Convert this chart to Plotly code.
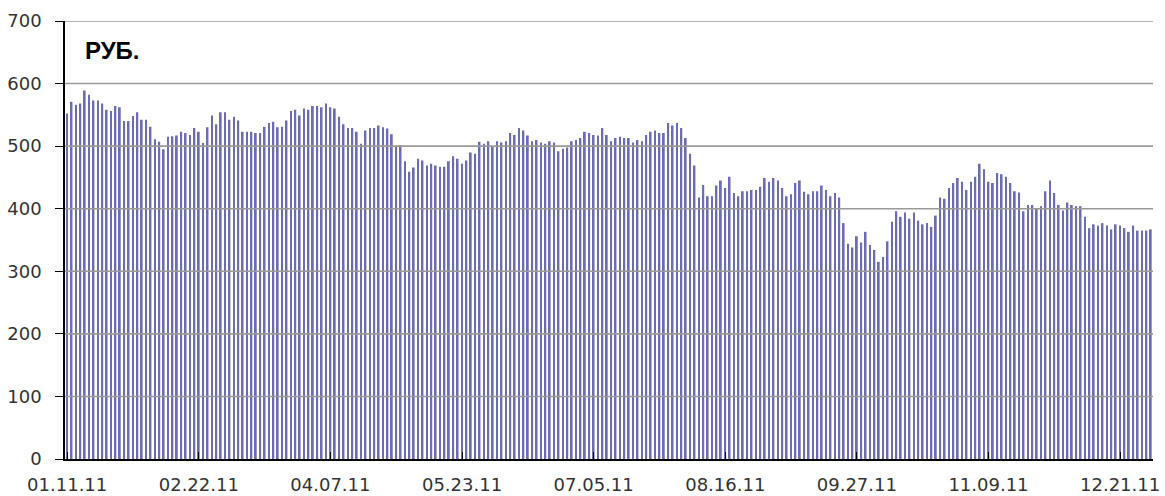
import pandas as pd
import plotly.graph_objects as go

# Trading calendar (Moscow exchange, 2011)
START, END = "2011-01-11", "2011-12-30"
HOLIDAYS = ["2011-02-23", "2011-03-07", "2011-03-08", "2011-05-02",
            "2011-05-09", "2011-06-13", "2011-11-04"]
EXTRA_WORKDAYS = ["2011-03-05"]

PRICES = [
    552, 571, 566, 568, 589, 582, 573, 573, 568, 558,
    556, 564, 562, 540, 540, 548, 554, 542, 542, 531,
    511, 507, 495, 515, 516, 517, 523, 521, 518, 529,
    523, 505, 530, 549, 535, 554, 554, 542, 547, 541,
    523, 523, 523, 521, 521, 531, 537, 539, 530, 531,
    541, 556, 558, 549, 560, 558, 564, 564, 562, 568,
    562, 560, 547, 535, 529, 529, 523, 504, 525, 529,
    529, 533, 530, 528, 519, 500, 502, 476, 459, 466,
    480, 477, 469, 472, 469, 467, 467, 476, 484, 480,
    472, 477, 490, 488, 507, 504, 508, 500, 508, 506,
    508, 521, 518, 529, 525, 517, 508, 510, 506, 504,
    508, 506, 492, 496, 498, 508, 510, 513, 523, 521,
    518, 517, 529, 518, 508, 513, 515, 513, 513, 506,
    510, 508, 518, 523, 525, 521, 521, 537, 533, 537,
    529, 513, 488, 469, 418, 438, 420, 420, 437, 445,
    433, 451, 425, 420, 428, 428, 430, 430, 435, 449,
    443, 449, 445, 433, 420, 423, 441, 445, 427, 423,
    428, 428, 437, 430, 420, 425, 418, 377, 344, 338,
    356, 346, 363, 342, 334, 315, 323, 348, 379, 396,
    387, 394, 384, 394, 381, 375, 377, 371, 389, 418,
    416, 433, 441, 449, 443, 430, 443, 451, 472, 463,
    443, 441, 457, 455, 451, 441, 428, 426, 396, 406,
    406, 400, 404, 428, 445, 425, 406, 397, 410, 406,
    404, 404, 387, 369, 375, 373, 377, 373, 367, 375,
    373, 369, 363, 373, 365, 365, 365, 367,
]

Y_TICKS = [0, 100, 200, 300, 400, 500, 600, 700]
TICK_EVERY = 30
UNIT_LABEL = "РУБ."

days = pd.bdate_range(START, END)
days = days.difference(pd.to_datetime(HOLIDAYS)).union(pd.to_datetime(EXTRA_WORKDAYS))
categories = [d.strftime("%m.%d.%y") for d in days]
n = min(len(categories), len(PRICES))
categories = categories[:n]
values = PRICES[:n]

x_tickvals = categories[::TICK_EVERY]

FONT = "DejaVu Sans"
TEXT = "#333333"

fig = go.Figure()
fig.add_trace(go.Bar(
    x=categories, y=values,
    marker=dict(color="#6c6cb2", line=dict(width=0)),
    hoverinfo="x+y",
))

# horizontal gridlines drawn above the bars, as in the original
shapes = []
for v in Y_TICKS[1:]:
    shapes.append(dict(type="line", xref="paper", yref="y", x0=0, x1=1, y0=v, y1=v,
                       line=dict(color="#9a9a9a", width=1.6), layer="above"))

fig.update_layout(
    width=1165, height=496,
    margin=dict(l=65, r=12, t=21, b=37),
    paper_bgcolor="white", plot_bgcolor="white",
    bargap=0.6,
    showlegend=False,
    shapes=shapes,
    font=dict(family=FONT, size=18, color=TEXT),
    annotations=[dict(
        text=UNIT_LABEL, xref="paper", yref="paper",
        x=(83 - 65) / 1088, y=(459 - 50.5) / 438,
        xanchor="left", yanchor="middle", showarrow=False,
        font=dict(family="Liberation Sans", size=24, color="black", weight="bold"),
    )],
    xaxis=dict(
        type="category", automargin=False,
        categoryorder="array", categoryarray=categories,
        tickmode="array", tickvals=x_tickvals, ticktext=x_tickvals,
        ticks="inside", ticklen=7, tickcolor="black", tickwidth=1.3,
        showline=True, linecolor="black", linewidth=1.5,
        showgrid=False, zeroline=False,
        tickangle=0,
        ticklabelstandoff=9,
        tickfont=dict(family=FONT, size=18, color=TEXT),
        layer="above traces",
    ),
    yaxis=dict(
        range=[0, 700], automargin=False,
        tickmode="array", tickvals=Y_TICKS,
        ticks="outside", ticklen=8, tickcolor="black", tickwidth=1.3,
        showline=True, linecolor="black", linewidth=1.5,
        showgrid=False, zeroline=False,
        ticklabelstandoff=10,
        tickfont=dict(family=FONT, size=18, color=TEXT),
        layer="above traces",
    ),
)

fig.write_html("out.html", config={"displayModeBar": False},
               post_script="document.body.style.margin='0';")
